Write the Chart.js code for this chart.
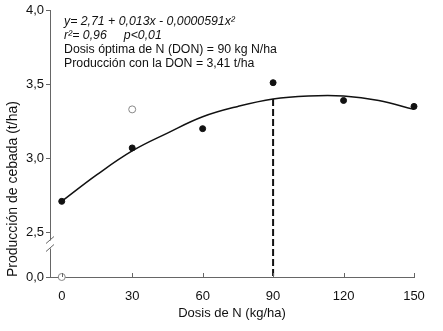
<!DOCTYPE html>
<html>
<head>
<meta charset="utf-8">
<script src="https://cdn.jsdelivr.net/npm/chart.js@4"></script>
<style>
  html, body { margin: 0; padding: 0; background: #fff; }
  #wrap { width: 443px; height: 331px; }
</style>
</head>
<body>
<div id="wrap"><canvas id="chart"></canvas></div>
<script>
// observed yields
const doses = [0, 30, 60, 90, 120, 150];
const yieldObs = [2.71, 3.07, 3.20, 3.51, 3.39, 3.35];
// excluded (open) points
const outDoses = [30, 0];
const outYield = [3.33, 0.0];
// fitted curve
const fitDoses = [0, 15, 30, 45, 60, 75, 90, 105, 120, 135, 150];
const fitYield = [2.71, 2.89, 3.05, 3.17, 3.28, 3.35, 3.40, 3.42, 3.42, 3.39, 3.33];
// optimum dose
const donDose = 90;
const donYield = 3.40;
// ticks
const xTicks = [0, 30, 60, 90, 120, 150];
const yTicks = [0.0, 2.5, 3.0, 3.5, 4.0];

const notes = [
	{ text: 'y= 2,71 + 0,013x - 0,0000591x²', italic: true },
	{ text: 'r²= 0,96     p<0,01', italic: true },
	{ text: 'Dosis óptima de N (DON) = 90 kg N/ha', italic: false },
	{ text: 'Producción con la DON = 3,41 t/ha', italic: false }
];

// y axis break: values under 2.5 are squeezed into the band below it
const breakAt = 2.5;
const shownZero = 2.2;
function toAxis(v) {
	return v >= breakAt ? v : shownZero + v * (breakAt - shownZero) / breakAt;
}
function fromAxis(a) {
	return a >= breakAt ? a : (a - shownZero) * breakAt / (breakAt - shownZero);
}
function pts(xs, ys) {
	return xs.map((x, i) => ({ x: x, y: toAxis(ys[i]) }));
}

const axisColor = '#666';
const font = 'Liberation Sans, Arial, sans-serif';

const extras = {
	id: 'extras',
	afterDraw(chart) {
		const ctx = chart.ctx;
		const xs = chart.scales.x, ys = chart.scales.y;
		const area = chart.chartArea;
		ctx.save();
		// x ticks pointing inward
		ctx.strokeStyle = axisColor;
		ctx.lineWidth = 1;
		xTicks.forEach(v => {
			const px = Math.round(xs.getPixelForValue(v)) + 0.5;
			ctx.beginPath();
			ctx.moveTo(px, area.bottom);
			ctx.lineTo(px, area.bottom - 4);
			ctx.stroke();
		});
		// axis break
		const yb = ys.getPixelForValue(breakAt);
		const lx = area.left;
		ctx.fillStyle = '#fff';
		ctx.fillRect(lx - 2, yb + 8, 4, 8);
		ctx.beginPath();
		ctx.moveTo(lx - 4, yb + 11); ctx.lineTo(lx + 4, yb + 4);
		ctx.moveTo(lx - 4, yb + 19); ctx.lineTo(lx + 4, yb + 12);
		ctx.stroke();
		// equation text
		ctx.fillStyle = '#111';
		ctx.textBaseline = 'middle';
		ctx.textAlign = 'left';
		notes.forEach((n, i) => {
			ctx.font = (n.italic ? 'italic ' : '') + '12.3px ' + font;
			ctx.fillText(n.text, 64, 22 + i * 14);
		});
		ctx.restore();
	}
};

new Chart(document.getElementById('chart'), {
	type: 'scatter',
	data: {
		datasets: [
			{
				data: pts(fitDoses, fitYield),
				showLine: true,
				borderColor: '#111',
				borderWidth: 1.5,
				pointRadius: 0,
				tension: 0.4
			},
			{
				data: pts([donDose, donDose], [donYield, 0]),
				showLine: true,
				borderColor: '#111',
				borderWidth: 2,
				borderDash: [7, 3],
				pointRadius: 0
			},
			{
				data: pts(doses, yieldObs),
				pointRadius: 3,
				backgroundColor: '#111',
				borderColor: '#111',
				clip: false
			},
			{
				data: pts(outDoses, outYield),
				pointRadius: 3.5,
				backgroundColor: '#fff',
				borderColor: '#888',
				borderWidth: 1,
				clip: false
			}
		]
	},
	options: {
		responsive: true,
		maintainAspectRatio: false,
		animation: false,
		layout: { padding: { top: 10, right: 29, bottom: 0, left: 0 } },
		plugins: { legend: { display: false }, tooltip: { enabled: false } },
		scales: {
			x: {
				type: 'linear',
				min: -5,
				max: 150,
				afterBuildTicks: s => { s.ticks = xTicks.map(v => ({ value: v })); },
				afterFit: s => { s.height = 54; },
				grid: { display: false },
				border: { display: true, color: axisColor },
				ticks: { color: '#111', padding: 4, font: { family: font, size: 13 } },
				title: {
					display: true,
					text: 'Dosis de N (kg/ha)',
					color: '#111',
					font: { family: font, size: 13 },
					padding: { top: 0, bottom: 10 }
				}
			},
			y: {
				type: 'linear',
				min: shownZero,
				max: 4.0,
				afterBuildTicks: s => { s.ticks = yTicks.map(v => ({ value: toAxis(v) })); },
				afterFit: s => { s.width = 50; },
				grid: { drawOnChartArea: false, color: axisColor, tickLength: 4 },
				border: { display: true, color: axisColor },
				ticks: {
					color: '#111',
					padding: 2,
					font: { family: font, size: 13 },
					callback: v => fromAxis(v).toFixed(1).replace('.', ',')
				},
				title: {
					display: true,
					text: 'Producción de cebada (t/ha)',
					color: '#111',
					align: 'start',
					font: { family: font, size: 14 },
					padding: { top: 5, bottom: 0 }
				}
			}
		}
	},
	plugins: [extras]
});
</script>
</body>
</html>
